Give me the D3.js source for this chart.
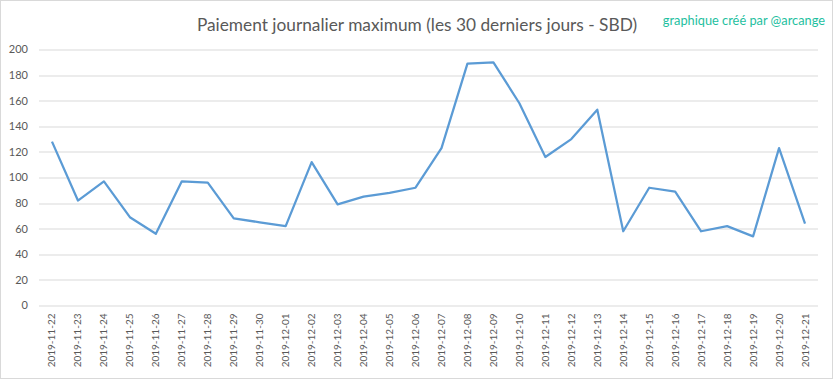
<!DOCTYPE html>
<html>
<head>
<meta charset="utf-8">
<script src="https://cdn.jsdelivr.net/npm/d3@7"></script>
<style>
  body { margin: 0; background: #fff; }
  text { font-family: Lato, "Open Sans", sans-serif; }
</style>
</head>
<body>
<div id="chart"></div>
<script>
// daily max payout, last 30 days
const dates = ["2019-11-22","2019-11-23","2019-11-24","2019-11-25","2019-11-26","2019-11-27","2019-11-28","2019-11-29","2019-11-30","2019-12-01",
  "2019-12-02","2019-12-03","2019-12-04","2019-12-05","2019-12-06","2019-12-07","2019-12-08","2019-12-09","2019-12-10","2019-12-11",
  "2019-12-12","2019-12-13","2019-12-14","2019-12-15","2019-12-16","2019-12-17","2019-12-18","2019-12-19","2019-12-20","2019-12-21"]
const payouts = [128, 82, 97, 69, 56, 97, 96, 68, 65, 62,
  112, 79, 85, 88, 92, 123, 189, 190, 158, 116,
  130, 153, 58, 92, 89, 58, 62, 54, 123, 64]
const yTicks = [0, 20, 40, 60, 80, 100, 120, 140, 160, 180, 200]

const W = 833, H = 379
const margin = {top: 49.5, right: 15, bottom: 73.5, left: 39}
const width = W - margin.left - margin.right,
      height = H - margin.top - margin.bottom

const svg = d3.select('#chart').append('svg')
  .attr('width', W)
  .attr('height', H)

// outer border
svg.append('rect')
  .attr('x', 0.5).attr('y', 0.5)
  .attr('width', W - 1).attr('height', H - 1)
  .attr('fill', '#fff')
  .attr('stroke', '#d9d9d9')

svg.append('text')
  .attr('x', 417).attr('y', 31)
  .attr('text-anchor', 'middle')
  .style('font-size', '17.3px')
  .style('fill', '#595959')
  .text('Paiement journalier maximum (les 30 derniers jours - SBD)')

svg.append('text')
  .attr('x', 825).attr('y', 25)
  .attr('text-anchor', 'end')
  .style('font-size', '12.8px')
  .style('fill', '#1ec0a0')
  .text('graphique créé par @arcange')

const g = svg.append('g')
  .attr('transform', 'translate(' + margin.left + ',' + margin.top + ')')

const x = d3.scaleBand()
  .domain(dates)
  .range([0, width])

const y = d3.scaleLinear()
  .domain([0, 200])
  .range([height, 0])

// gridlines
g.append('g')
  .selectAll('line')
  .data(yTicks)
  .enter().append('line')
  .attr('x1', 0).attr('x2', width)
  .attr('y1', d => Math.round(y(d)) + 0.5)
  .attr('y2', d => Math.round(y(d)) + 0.5)
  .attr('stroke', '#d9d9d9')
  .attr('stroke-width', 1)

// y labels
g.append('g')
  .selectAll('text')
  .data(yTicks)
  .enter().append('text')
  .attr('x', -11)
  .attr('y', d => y(d))
  .attr('dy', '0.35em')
  .attr('text-anchor', 'end')
  .style('font-size', '11px')
  .style('fill', '#595959')
  .text(d => d)

// x labels, rotated
g.append('g')
  .selectAll('text')
  .data(dates)
  .enter().append('text')
  .attr('transform', d => 'translate(' + (x(d) + x.bandwidth() / 2) + ',' + (height + 8) + ') rotate(-90)')
  .attr('dy', '0.35em')
  .attr('text-anchor', 'end')
  .style('font-size', '10px')
  .style('fill', '#595959')
  .text(d => d)

const line = d3.line()
  .x((d, i) => x(dates[i]) + x.bandwidth() / 2)
  .y(d => y(d))

g.append('path')
  .datum(payouts)
  .attr('d', line)
  .attr('fill', 'none')
  .attr('stroke', '#5b9bd5')
  .attr('stroke-width', 2.25)
  .attr('stroke-linejoin', 'round')
</script>
</body>
</html>
